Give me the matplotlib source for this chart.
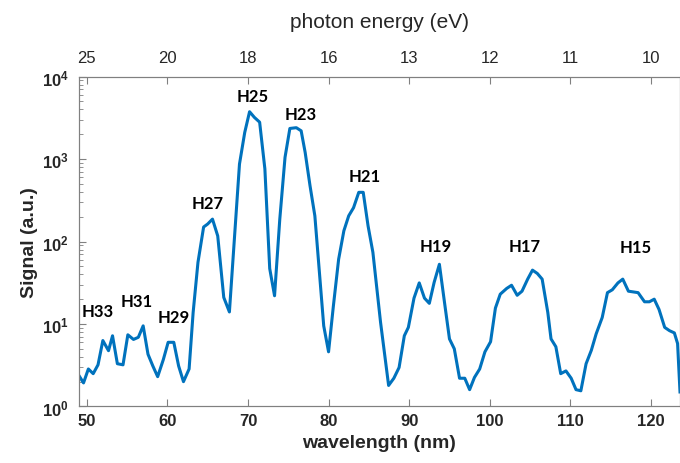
import numpy as np
import matplotlib
matplotlib.use("Agg")
import matplotlib.pyplot as plt
from matplotlib.ticker import LogLocator, NullFormatter

plt.rcParams['font.family'] = ['Liberation Sans', 'DejaVu Sans']
plt.rcParams['mathtext.fontset'] = 'custom'
plt.rcParams['mathtext.rm'] = 'Liberation Sans'
plt.rcParams['mathtext.bf'] = 'Liberation Sans:bold'

# spectrum: wavelength (nm) and signal (a.u.)
wavelength = [49.0, 49.6, 50.2, 50.8, 51.4, 52.0, 52.7, 53.2, 53.8, 54.5,
              55.1, 55.8, 56.4, 57.0, 57.6, 58.2, 58.8, 59.5, 60.1, 60.8,
              61.4, 62.0, 62.7, 63.2, 63.8, 64.5, 65.0, 65.6, 66.25, 67.0,
              67.7, 68.95, 69.6, 70.2, 70.8, 71.45, 72.1, 72.7, 73.3, 73.95,
              74.6, 75.2, 76.0, 76.6, 77.1, 77.7, 78.3, 79.4, 80.0, 80.6,
              81.25, 81.9, 82.5, 83.1, 83.75, 84.3, 84.9, 85.5, 86.45, 87.45,
              88.1, 88.75, 89.4, 89.9, 90.6, 91.25, 91.9, 92.5, 93.1, 93.75,
              94.4, 95.0, 95.6, 96.25, 96.9, 97.5, 98.1, 98.75, 99.4, 100.1,
              100.7, 101.3, 102.1, 102.7, 103.4, 104.0, 104.7, 105.3, 105.9, 106.5,
              107.2, 107.6, 108.2, 108.8, 109.45, 110.1, 110.7, 111.3, 111.95, 112.6,
              113.2, 113.95, 114.6, 115.2, 115.9, 116.5, 117.2, 117.8, 118.4, 119.2,
              119.8, 120.4, 121.0, 121.7, 122.3, 122.9, 123.3, 123.6]
signal = [2.4, 1.93, 2.85, 2.5, 3.2, 6.3, 4.75, 7.2, 3.3, 3.2,
          7.4, 6.5, 6.9, 9.5, 4.3, 3.1, 2.3, 3.7, 6.0, 6.0,
          3.1, 2.0, 2.85, 13.8, 56, 150, 163, 187, 117, 21,
          14, 870, 2100, 3750, 3200, 2800, 760, 47, 22, 187,
          1050, 2350, 2400, 2200, 1200, 475, 205, 9.5, 4.6, 16.6,
          61, 135, 205, 257, 395, 395, 155, 74, 10.5, 1.8,
          2.2, 2.97, 7.2, 9.1, 20.6, 31.5, 20.6, 17.8, 32, 53,
          17.8, 6.6, 5.0, 2.2, 2.2, 1.6, 2.25, 2.85, 4.6, 6.1,
          15.6, 23, 27, 29.5, 22.3, 25, 35, 45, 41, 35,
          13.8, 6.6, 5.3, 2.5, 2.7, 2.2, 1.6, 1.55, 3.3, 4.8,
          7.6, 12, 24, 26, 31.5, 35, 25, 24.5, 24, 18.6,
          18.6, 20, 15, 9.1, 8.3, 7.8, 5.8, 1.5]

# harmonic labels and where they sit (wavelength, signal)
harm_names = ['H33', 'H31', 'H29', 'H27', 'H25', 'H23', 'H21', 'H19', 'H17', 'H15']
harm_x = [51.4, 56.2, 60.8, 65.0, 70.6, 76.6, 84.5, 93.3, 104.3, 118.1]
harm_y = [14.5, 19, 12, 293, 5760, 3560, 630, 89, 89, 87]

wl_ticks = [50, 60, 70, 80, 90, 100, 110, 120]
ev_labels = ['25', '20', '18', '16', '13', '12', '11', '10']
y_ticks = [1, 10, 100, 1000, 10000]
y_labels = [r'$\mathbf{10^{0}}$', r'$\mathbf{10^{1}}$', r'$\mathbf{10^{2}}$',
            r'$\mathbf{10^{3}}$', r'$\mathbf{10^{4}}$']

fig = plt.figure(figsize=(6.8, 4.64), dpi=100)
ax = fig.add_axes([0.1157, 0.1218, 0.8843, 0.711])

ax.plot(wavelength, signal, color='#0072BD', lw=2.2)
ax.set_yscale('log')
ax.set_xlim(49.0, 123.6)
ax.set_ylim(1, 10000)

for name, hx, hy in zip(harm_names, harm_x, harm_y):
    ax.text(hx, hy, name, ha='center', va='center', fontsize=12,
            fontweight='bold', family=['Lato', 'DejaVu Sans'], color='black')

spine_col = '#808080'
for s in ax.spines.values():
    s.set_color(spine_col)
    s.set_linewidth(0.8)

ax.set_xticks(wl_ticks)
ax.set_xticklabels([str(t) for t in wl_ticks], fontweight='bold', fontsize=12, color='#262626')
ax.set_yticks(y_ticks)
ax.set_yticklabels(y_labels, fontsize=12, color='#262626')
ax.yaxis.set_minor_locator(LogLocator(base=10, subs=np.arange(2, 10)))
ax.yaxis.set_minor_formatter(NullFormatter())
ax.tick_params(axis='x', which='major', direction='in', length=5, color=spine_col, pad=5)
ax.tick_params(axis='y', which='major', direction='in', length=5, color=spine_col, pad=7)
ax.tick_params(axis='y', which='minor', direction='in', length=3, color=spine_col)
ax.tick_params(axis='x', which='both', top=False)

ax.set_xlabel('wavelength (nm)', fontsize=14, fontweight='bold', color='#262626', labelpad=4)
ax.set_ylabel('Signal (a.u.)', fontsize=14, fontweight='bold', color='#262626')
ax.yaxis.set_label_coords(-0.068, 0.5)

top = ax.twiny()
top.set_xlim(ax.get_xlim())
top.set_xticks(wl_ticks)
top.set_xticklabels(ev_labels, fontsize=12, color='#262626')
top.tick_params(axis='x', direction='in', length=5, color=spine_col, pad=8)
top.set_xlabel('photon energy (eV)', fontsize=15, color='#262626', labelpad=17)
for s in top.spines.values():
    s.set_color(spine_col)
    s.set_linewidth(0.8)

fig.savefig('out.png', dpi=100)
